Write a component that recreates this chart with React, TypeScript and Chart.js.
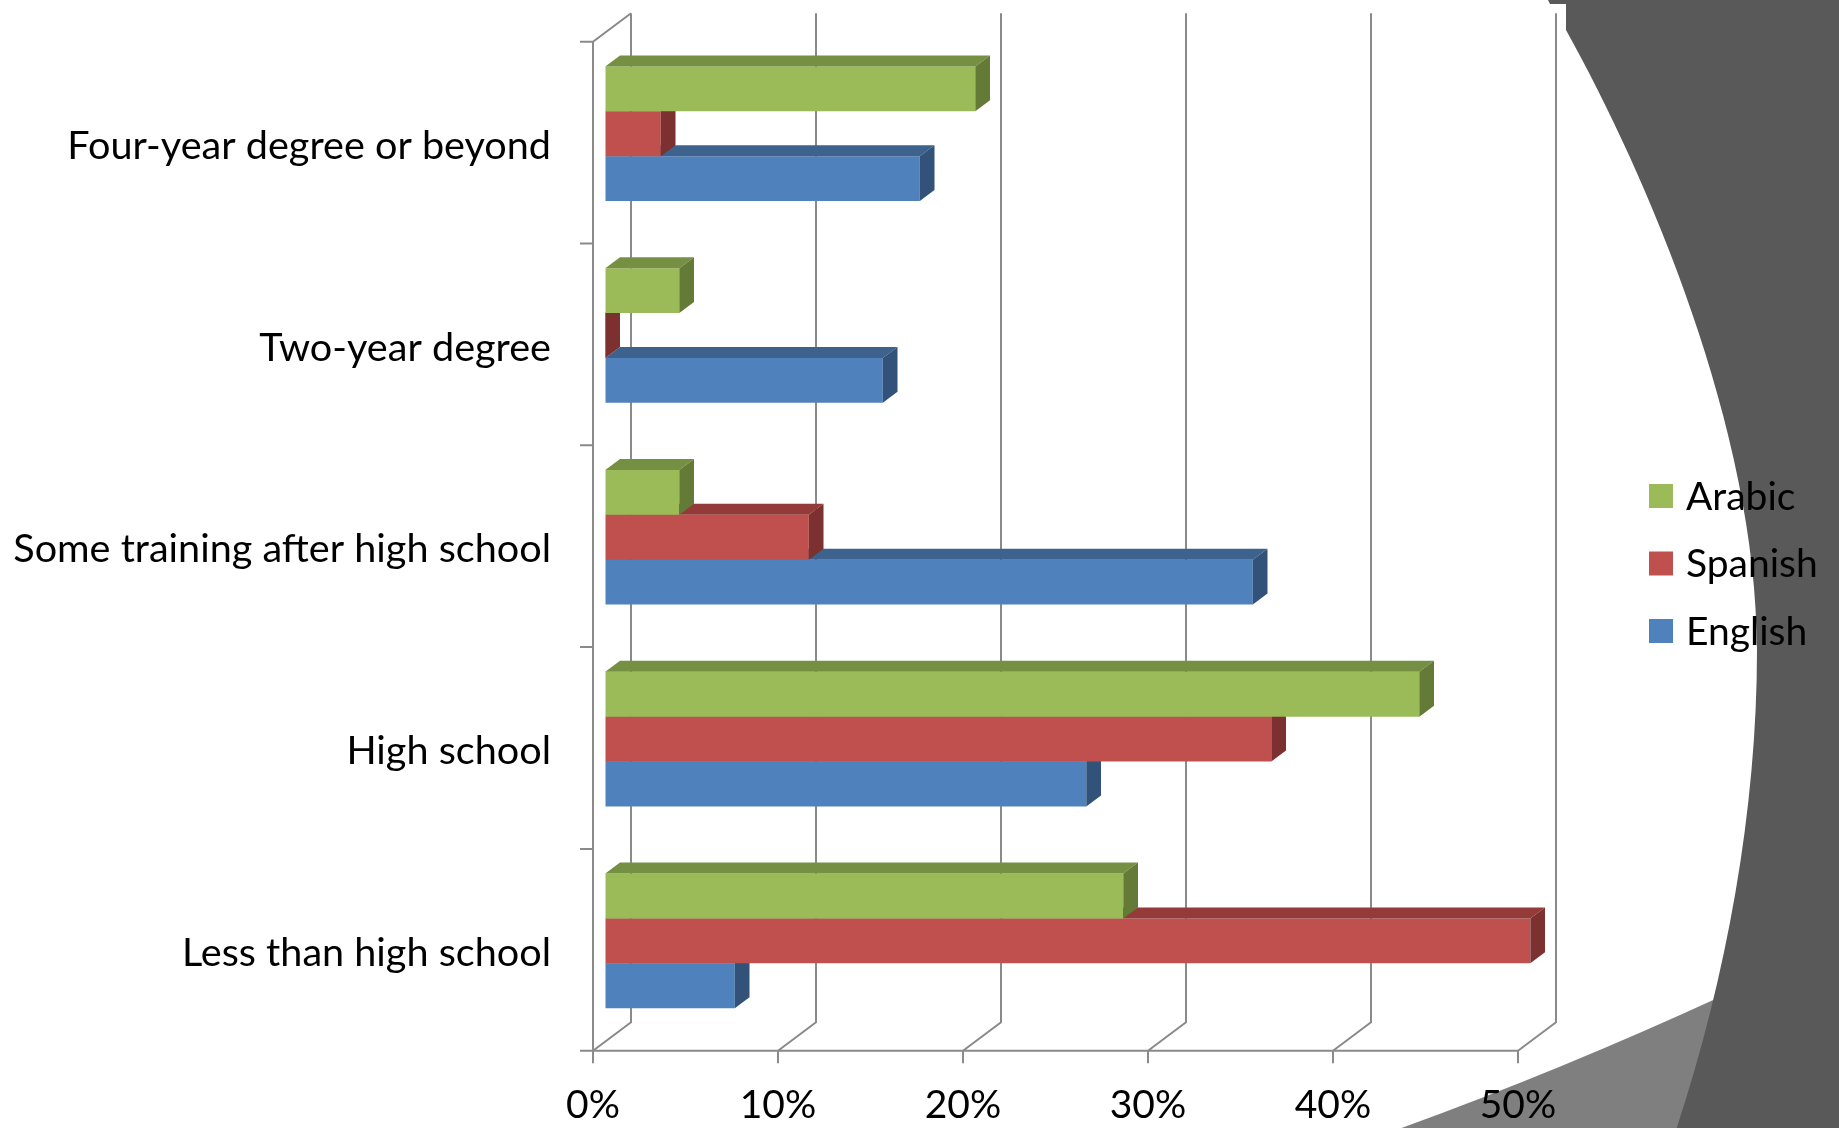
import { useEffect, useRef } from 'react';
import { Chart, registerables } from 'chart.js';

Chart.register(...registerables);

// Education level by language spoken at home (share of each group)
const categories = [
  'Four-year degree or beyond',
  'Two-year degree',
  'Some training after high school',
  'High school',
  'Less than high school',
];
const seriesNames = ['Arabic', 'Spanish', 'English'];
const arabicValues = [20, 4, 4, 44, 28];
const spanishValues = [3, 0, 11, 36, 50];
const englishValues = [17, 15, 35, 26, 7];
const axisMin = 0;
const axisMax = 50;
const axisStep = 10;

// front, top and side shades of each series
const frontColors = ['#9bbb59', '#c0504d', '#4f81bd'];
const topColors = ['#769043', '#943b3a', '#3c628d'];
const sideColors = ['#647a37', '#7c302f', '#32527a'];

const W = 1839;
const H = 1128;
const FONT = 'Lato, "Open Sans", sans-serif';
const FONT_SIZE = 39;

// plot box of the bar-front plane
const AREA = { left: 605.3, right: 1530.3, top: 32.8, bottom: 1041.8 };

// oblique projection offsets, relative to the plane holding the bar fronts
const FRONT = { dx: -12.3, dy: 8.9 };
const BACK = { dx: 25.7, dy: -19.6 };
const DEPTH = { dx: 14.7, dy: -11 };
const GRID = '#8a8a8a';

function poly(ctx: CanvasRenderingContext2D, pts: number[][]) {
  ctx.beginPath();
  ctx.moveTo(pts[0][0], pts[0][1]);
  for (let i = 1; i < pts.length; i++) ctx.lineTo(pts[i][0], pts[i][1]);
  ctx.closePath();
  ctx.fill();
}

const box3d = {
  id: 'box3d',
  beforeDraw(chart: any) {
    const ctx: CanvasRenderingContext2D = chart.ctx;
    ctx.save();
    // slide backdrop shapes on the right
    ctx.fillStyle = '#7f7f7f';
    ctx.beginPath();
    ctx.moveTo(1401.5, H);
    ctx.quadraticCurveTo(1560, 1070.5, 1722, 996);
    ctx.lineTo(W, 950);
    ctx.lineTo(W, H);
    ctx.closePath();
    ctx.fill();

    ctx.fillStyle = '#595959';
    ctx.beginPath();
    ctx.moveTo(1548, 0);
    ctx.lineTo(1550, 4);
    ctx.lineTo(1566, 4);
    ctx.lineTo(1566, 30);
    ctx.bezierCurveTo(1646.7, 175, 1757, 430, 1757, 650);
    ctx.bezierCurveTo(1757, 810, 1726.2, 978, 1676.7, H);
    ctx.lineTo(W, H);
    ctx.lineTo(W, 0);
    ctx.closePath();
    ctx.fill();
    ctx.restore();
  },
  beforeDatasetsDraw(chart: any) {
    const ctx: CanvasRenderingContext2D = chart.ctx;
    const a = chart.chartArea;
    const xs = chart.scales.x;
    const ys = chart.scales.y;
    const px = xs.ticks.map((t: any) => xs.getPixelForValue(t.value));
    const topB = a.top + BACK.dy;
    const botB = a.bottom + BACK.dy;
    const topF = a.top + FRONT.dy;
    const botF = a.bottom + FRONT.dy;
    ctx.save();
    ctx.strokeStyle = GRID;
    ctx.lineWidth = 2;
    ctx.beginPath();
    // back wall gridlines, floor edges and tick marks
    px.forEach((p: number) => {
      ctx.moveTo(p + BACK.dx, topB);
      ctx.lineTo(p + BACK.dx, botB);
      ctx.lineTo(p + FRONT.dx, botF);
      ctx.moveTo(p + FRONT.dx, botF);
      ctx.lineTo(p + FRONT.dx, botF + 12.5);
    });
    ctx.moveTo(px[0] + FRONT.dx, botF);
    ctx.lineTo(px[px.length - 1] + FRONT.dx, botF);
    // side wall
    const lx = px[0] + FRONT.dx;
    ctx.moveTo(lx, botF);
    ctx.lineTo(lx, topF);
    ctx.lineTo(px[0] + BACK.dx, topB);
    // category dividers
    const n = ys.ticks.length;
    for (let i = 0; i <= n; i++) {
      const yy = topF + ((a.bottom - a.top) * i) / n;
      ctx.moveTo(lx - 13, yy);
      ctx.lineTo(lx, yy);
    }
    ctx.stroke();
    ctx.restore();
  },
  afterDatasetDraw(chart: any, args: any) {
    const ctx: CanvasRenderingContext2D = chart.ctx;
    const i = args.index;
    ctx.save();
    args.meta.data.forEach((bar: any) => {
      const { x, y, base, height } = bar.getProps(['x', 'y', 'base', 'height'], true);
      const t = y - height / 2;
      const b = y + height / 2;
      ctx.fillStyle = topColors[i];
      poly(ctx, [
        [base, t],
        [x, t],
        [x + DEPTH.dx, t + DEPTH.dy],
        [base + DEPTH.dx, t + DEPTH.dy],
      ]);
      ctx.fillStyle = sideColors[i];
      poly(ctx, [
        [x, t],
        [x + DEPTH.dx, t + DEPTH.dy],
        [x + DEPTH.dx, b + DEPTH.dy],
        [x, b],
      ]);
    });
    ctx.restore();
  },
  afterDraw(chart: any) {
    const ctx: CanvasRenderingContext2D = chart.ctx;
    ctx.save();
    ctx.font = `${FONT_SIZE}px ${FONT}`;
    ctx.textBaseline = 'middle';
    ctx.textAlign = 'left';
    chart.data.datasets.forEach((ds: any, k: number) => {
      const cy = 496 + k * 67.5;
      ctx.fillStyle = ds.backgroundColor;
      ctx.fillRect(1649, cy - 12, 24, 24);
      ctx.fillStyle = '#000';
      ctx.fillText(ds.label, 1686, cy + 1);
    });
    ctx.restore();
  },
};

export default function App() {
  const ref = useRef<HTMLCanvasElement>(null);

  useEffect(() => {
    document.body.style.margin = '0';
    document.body.style.overflow = 'hidden';
    const canvas = ref.current;
    if (!canvas) return;
    const values = [arabicValues, spanishValues, englishValues];
    const padding = { top: AREA.top, right: W - AREA.right, left: 0, bottom: 0 };
    const chart = new Chart(canvas, {
      type: 'bar',
      data: {
        labels: categories,
        datasets: seriesNames.map((name, k) => ({
          label: name,
          data: values[k],
          backgroundColor: frontColors[k],
          borderWidth: 0,
          categoryPercentage: 0.667,
          barPercentage: 1,
        })),
      },
      options: {
        animation: false,
        responsive: false,
        devicePixelRatio: 1,
        indexAxis: 'y',
        layout: { padding },
        plugins: { legend: { display: false }, tooltip: { enabled: false } },
        scales: {
          x: {
            min: axisMin,
            max: axisMax,
            grid: { display: false, drawTicks: false },
            border: { display: false },
            ticks: {
              stepSize: axisStep,
              callback: (v: any) => `${v}%`,
              padding: 40,
              labelOffset: FRONT.dx,
              color: '#000',
              font: { family: FONT, size: FONT_SIZE },
              maxRotation: 0,
              autoSkip: false,
            },
            afterFit: (s: any) => {
              s.height = H - AREA.bottom;
              s.paddingLeft = 0;
              s.paddingRight = 0;
            },
          },
          y: {
            grid: { display: false, drawTicks: false },
            border: { display: false },
            ticks: {
              padding: 54.3,
              labelOffset: FRONT.dy + 3.5,
              color: '#000',
              font: { family: FONT, size: 39.6 },
              autoSkip: false,
            },
            afterFit: (s: any) => {
              s.width = AREA.left;
              s.paddingTop = 0;
              s.paddingBottom = 0;
            },
          },
        },
      },
      plugins: [box3d],
    } as any);

    // nudge the layout padding until the plot box sits where intended
    for (let pass = 0; pass < 3; pass++) {
      const ca = chart.chartArea;
      const dTop = AREA.top - ca.top;
      const dBottom = ca.bottom - AREA.bottom;
      const dLeft = AREA.left - ca.left;
      const dRight = ca.right - AREA.right;
      if (Math.abs(dTop) + Math.abs(dBottom) + Math.abs(dLeft) + Math.abs(dRight) < 0.2) break;
      padding.top = Math.max(0, padding.top + dTop);
      padding.bottom = Math.max(0, padding.bottom + dBottom);
      padding.left = Math.max(0, padding.left + dLeft);
      padding.right = Math.max(0, padding.right + dRight);
      chart.update();
    }
    return () => chart.destroy();
  }, []);

  return <canvas ref={ref} width={W} height={H} style={{ display: 'block', width: W, height: H }} />;
}
